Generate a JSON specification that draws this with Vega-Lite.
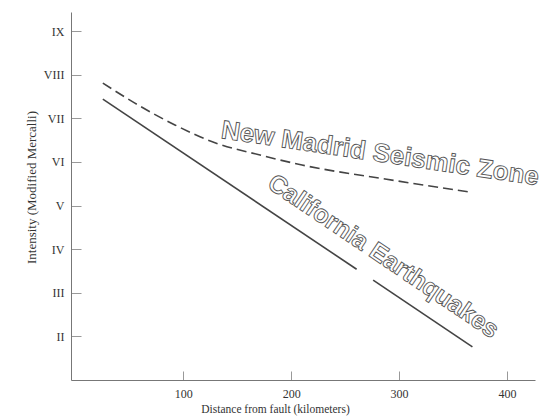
{
  "$schema": "https://vega.github.io/schema/vega-lite/v6.json",
  "width": 464,
  "height": 368,
  "autosize": "none",
  "padding": {"left": 71, "top": 12, "right": 7, "bottom": 38},
  "background": "white",
  "config": {
    "view": {"stroke": null},
    "axis": {
      "labelFont": "Liberation Serif",
      "titleFont": "Liberation Serif",
      "labelFontSize": 12,
      "titleFontSize": 11.5,
      "titleFontWeight": "normal",
      "labelColor": "#333",
      "titleColor": "#333",
      "domainColor": "#777",
      "tickColor": "#999",
      "grid": false
    }
  },
  "datasets": {
    "lines": [
      {"series": "New Madrid", "seg": "a", "distance": 25.5, "intensity": 7.81},
      {"series": "New Madrid", "seg": "a", "distance": 55.2, "intensity": 7.35},
      {"series": "New Madrid", "seg": "a", "distance": 92.3, "intensity": 6.85},
      {"series": "New Madrid", "seg": "a", "distance": 129.4, "intensity": 6.44},
      {"series": "New Madrid", "seg": "a", "distance": 171.2, "intensity": 6.16},
      {"series": "New Madrid", "seg": "a", "distance": 210.1, "intensity": 5.93},
      {"series": "New Madrid", "seg": "a", "distance": 287.1, "intensity": 5.61},
      {"series": "New Madrid", "seg": "a", "distance": 366.0, "intensity": 5.31},
      {"series": "California", "seg": "b", "distance": 25.5, "intensity": 7.44},
      {"series": "California", "seg": "b", "distance": 260.7, "intensity": 3.54},
      {"series": "California", "seg": "c", "distance": 276.0, "intensity": 3.29},
      {"series": "California", "seg": "c", "distance": 368.0, "intensity": 1.76}
    ],
    "labels": [
      {"series": "New Madrid", "label": "New Madrid Seismic Zone", "distance": 282.4, "intensity": 6.19},
      {"series": "California", "label": "California Earthquakes", "distance": 285.5, "intensity": 3.84}
    ]
  },
  "layer": [
    {
      "data": {"name": "lines"},
      "transform": [{"filter": "datum.series === 'New Madrid'"}],
      "mark": {"type": "line", "color": "#444", "strokeWidth": 1.6, "strokeDash": [10, 5], "interpolate": "monotone"},
      "encoding": {
        "x": {
          "field": "distance", "type": "quantitative",
          "scale": {"domain": [-4, 426], "nice": false, "zero": false},
          "axis": {"values": [100, 200, 300, 400], "tickSize": -9, "labelPadding": 17, "title": "Distance from fault (kilometers)", "titlePadding": 4, "titleX": 204}
        },
        "y": {
          "field": "intensity", "type": "quantitative",
          "scale": {"domain": [1, 9.44], "nice": false, "zero": false},
          "axis": {"values": [2, 3, 4, 5, 6, 7, 8, 9], "tickSize": -10, "labelPadding": 17,
            "labelExpr": "['','I','II','III','IV','V','VI','VII','VIII','IX'][datum.value]",
            "title": "Intensity (Modified Mercalli)", "titlePadding": 5, "titleFontSize": 13, "titleY": 175}
        },
        "detail": {"field": "seg"}
      }
    },
    {
      "data": {"name": "lines"},
      "transform": [{"filter": "datum.series === 'California'"}],
      "mark": {"type": "line", "color": "#444", "strokeWidth": 1.6},
      "encoding": {
        "x": {"field": "distance", "type": "quantitative"},
        "y": {"field": "intensity", "type": "quantitative"},
        "detail": {"field": "seg"}
      }
    },
    {
      "data": {"name": "labels"},
      "transform": [{"filter": "datum.series === 'New Madrid'"}],
      "mark": {"type": "text", "font": "Liberation Sans", "fontWeight": "bold", "fontSize": 26, "angle": 8.5, "align": "center", "baseline": "middle", "fill": "white", "stroke": "#555", "strokeWidth": 0.9},
      "encoding": {
        "x": {"field": "distance", "type": "quantitative"},
        "y": {"field": "intensity", "type": "quantitative"},
        "text": {"field": "label"}
      }
    },
    {
      "data": {"name": "labels"},
      "transform": [{"filter": "datum.series === 'California'"}],
      "mark": {"type": "text", "font": "Liberation Sans", "fontWeight": "bold", "fontSize": 25, "angle": 34, "align": "center", "baseline": "middle", "fill": "white", "stroke": "#555", "strokeWidth": 0.9},
      "encoding": {
        "x": {"field": "distance", "type": "quantitative"},
        "y": {"field": "intensity", "type": "quantitative"},
        "text": {"field": "label"}
      }
    }
  ]
}
